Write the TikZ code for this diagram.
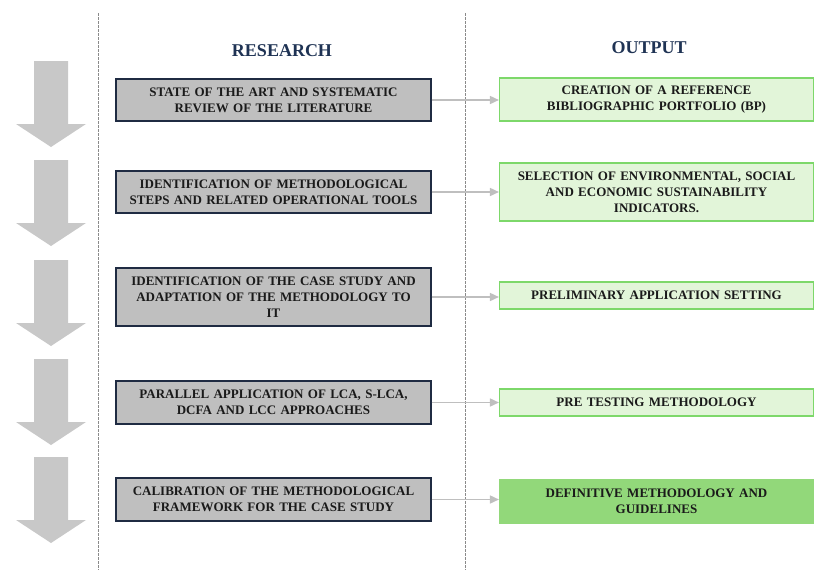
\documentclass[tikz,border=0pt]{standalone}
\usepackage{fontspec}
\setmainfont{Liberation Serif}
\usetikzlibrary{arrows.meta}
\definecolor{titlenavy}{HTML}{1F3354}
\definecolor{boxgray}{HTML}{BFBFBF}
\definecolor{boxborder}{HTML}{1F2B42}
\definecolor{outfill}{HTML}{E2F5D9}
\definecolor{outborder}{HTML}{7DD86A}
\definecolor{outdark}{HTML}{92D87A}
\definecolor{bigarrow}{HTML}{C8C8C8}
\definecolor{connector}{HTML}{BFBFBF}
\definecolor{sepline}{HTML}{8A8A8A}
\definecolor{txt}{HTML}{1A1A1A}
\begin{document}
\begin{tikzpicture}[x=1pt,y=-1pt,
  boxtext/.style={font=\bfseries\fontsize{13}{16}\selectfont, text=txt, align=center, inner sep=0pt},
  resbox/.style={boxtext, draw=boxborder, line width=1.2pt, fill=boxgray, minimum width=315pt, text width=300pt},
  outbox/.style={boxtext, draw=outborder, line width=1.1pt, fill=outfill, minimum width=314pt, text width=300pt},
  finalbox/.style={outbox, draw=outdark, fill=outdark},
  titletext/.style={font=\bfseries\fontsize{18}{20}\selectfont, text=titlenavy},
  conn/.style={draw=connector, line width=1.6pt, -{Triangle[length=9pt,width=8pt]}},
  sep/.style={draw=sepline, line width=0.8pt, dash pattern=on 2.5pt off 1.5pt},
  bigarr/.style={fill=bigarrow, draw=none}
]
\useasboundingbox (0,0) rectangle (817,570);

% separators
\coordinate (s1t) at (98,13);
\coordinate (s1b) at (98,570);
\coordinate (s2t) at (465,13);
\coordinate (s2b) at (465,570);
\draw[sep] (s1t) -- (s1b);
\draw[sep] (s2t) -- (s2b);

% titles
\node[titletext] (tres) at (282,51) {RESEARCH};
\node[titletext] (tout) at (649,47.5) {OUTPUT};

% big down arrows
\foreach \t in {61,160,260,359,457}{
  \fill[bigarr] (34,\t) -- (68,\t) -- (68,\t+63) -- (86,\t+63) -- (51,\t+86) -- (16,\t+63) -- (34,\t+63) -- cycle;
}

% research boxes
\node[resbox, minimum height=42pt] (r1) at (273.5,100) {STATE OF THE ART AND SYSTEMATIC\\REVIEW OF THE LITERATURE};
\node[resbox, minimum height=42pt] (r2) at (273.5,192) {IDENTIFICATION OF METHODOLOGICAL\\STEPS AND RELATED OPERATIONAL TOOLS};
\node[resbox, minimum height=58pt] (r3) at (273.5,297) {IDENTIFICATION OF THE CASE STUDY AND\\ADAPTATION OF THE METHODOLOGY TO\\IT};
\node[resbox, minimum height=43pt] (r4) at (273.5,402.5) {PARALLEL APPLICATION OF LCA, S-LCA,\\DCFA AND LCC APPROACHES};
\node[resbox, minimum height=43pt] (r5) at (273.5,499.5) {CALIBRATION OF THE METHODOLOGICAL\\FRAMEWORK FOR THE CASE STUDY};

% output boxes
\node[outbox, minimum height=43pt] (o1) at (656.5,99.5) {CREATION OF A REFERENCE\\BIBLIOGRAPHIC PORTFOLIO (BP)};
\node[outbox, minimum height=58pt] (o2) at (656.5,192) {SELECTION OF ENVIRONMENTAL, SOCIAL\\AND ECONOMIC SUSTAINABILITY\\INDICATORS.};
\node[outbox, minimum height=27pt] (o3) at (656.5,295.5) {PRELIMINARY APPLICATION SETTING};
\node[outbox, minimum height=27pt] (o4) at (656.5,402.5) {PRE TESTING METHODOLOGY};
\node[finalbox, minimum height=43pt] (o5) at (656.5,501.5) {DEFINITIVE METHODOLOGY AND\\GUIDELINES};

% connectors
\foreach \i in {1,...,5}{
  \draw[conn] (r\i.east) -- (r\i.east -| o\i.west);
}
\end{tikzpicture}
\end{document}
